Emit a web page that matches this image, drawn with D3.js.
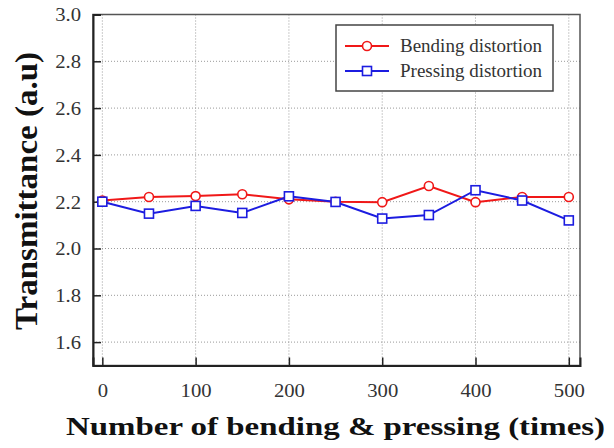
<!DOCTYPE html>
<html>
<head>
<meta charset="utf-8">
<script src="https://cdn.jsdelivr.net/npm/d3@7"></script>
<style>
  body { margin: 0; background: #fff; }
  text { font-family: "Liberation Serif", "Times New Roman", serif; }
</style>
</head>
<body>
<div id="chart"></div>
<script>
var cycles = [0, 50, 100, 150, 200, 250, 300, 350, 400, 450, 500];
var bending = [2.205, 2.22, 2.224, 2.232, 2.21, 2.2, 2.198, 2.267, 2.198, 2.22, 2.22];
var pressing = [2.2, 2.149, 2.182, 2.152, 2.223, 2.199, 2.128, 2.143, 2.249, 2.205, 2.12];
var xTicks = [0, 100, 200, 300, 400, 500];
var yTicks = [1.6, 1.8, 2.0, 2.2, 2.4, 2.6, 2.8, 3.0];
var seriesNames = ["Bending distortion", "Pressing distortion"];

var svg = d3.select("#chart").append("svg")
    .attr("width", 614)
    .attr("height", 448);

var x = d3.scaleLinear().domain([-10, 512]).range([93, 580]);
var y = d3.scaleLinear().domain([1.5, 3.0]).range([365.5, 14.5]);

// dotted grid
svg.append("g").selectAll("line").data(xTicks).enter().append("line")
    .attr("x1", function(d) { return x(d); })
    .attr("x2", function(d) { return x(d); })
    .attr("y1", y(3.0)).attr("y2", y(1.5))
    .attr("stroke", "#999").attr("stroke-width", 1)
    .attr("stroke-dasharray", "1,2");
svg.append("g").selectAll("line").data(yTicks).enter().append("line")
    .attr("y1", function(d) { return y(d); })
    .attr("y2", function(d) { return y(d); })
    .attr("x1", x(-10)).attr("x2", x(512))
    .attr("stroke", "#999").attr("stroke-width", 1)
    .attr("stroke-dasharray", "1,2");

// frame
svg.append("rect")
    .attr("x", x(-10)).attr("y", y(3.0))
    .attr("width", x(512) - x(-10)).attr("height", y(1.5) - y(3.0))
    .attr("fill", "none").attr("stroke", "#555").attr("stroke-width", 1.5);

// left axis
var yAxis = svg.append("g")
    .attr("transform", "translate(" + x(-10) + ",0)")
    .call(d3.axisRight(y).tickValues(yTicks).tickSize(8).tickFormat(""));
yAxis.select(".domain").attr("stroke", "#222").attr("stroke-width", 2);
yAxis.selectAll(".tick line").attr("stroke", "#222").attr("stroke-width", 1.5);

yAxis.selectAll(".tick").append("text")
    .attr("fill", "#333")
    .attr("font-size", 18)
    .attr("text-anchor", "end")
    .attr("dy", "0.35em")
    .attr("transform", "translate(-12,0) scale(1.15,1)")
    .text(function(d) { return d3.format(".1f")(d); });

// bottom axis
var xAxis = svg.append("g")
    .attr("transform", "translate(0," + y(1.5) + ")")
    .call(d3.axisTop(x).tickValues(xTicks).tickSize(8).tickFormat(""));
xAxis.select(".domain").attr("stroke", "#222").attr("stroke-width", 2);
xAxis.selectAll(".tick line").attr("stroke", "#222").attr("stroke-width", 1.5);

xAxis.selectAll(".tick").append("text")
    .attr("fill", "#333")
    .attr("font-size", 18)
    .attr("text-anchor", "middle")
    .attr("transform", "translate(0,31) scale(1.15,1)")
    .text(function(d) { return d; });

// series
var line = d3.line()
    .x(function(d, i) { return x(cycles[i]); })
    .y(function(d) { return y(d); });

svg.append("path").datum(bending)
    .attr("d", line).attr("fill", "none")
    .attr("stroke", "#f01818").attr("stroke-width", 2);
svg.append("path").datum(pressing)
    .attr("d", line).attr("fill", "none")
    .attr("stroke", "#1c1ce0").attr("stroke-width", 2);

svg.append("g").selectAll("circle").data(bending).enter().append("circle")
    .attr("cx", function(d, i) { return x(cycles[i]); })
    .attr("cy", function(d) { return y(d); })
    .attr("r", 4.5)
    .attr("fill", "#fff").attr("stroke", "#f01818").attr("stroke-width", 1.6);

svg.append("g").selectAll("rect").data(pressing).enter().append("rect")
    .attr("x", function(d, i) { return x(cycles[i]) - 4.5; })
    .attr("y", function(d) { return y(d) - 4.5; })
    .attr("width", 9).attr("height", 9)
    .attr("fill", "#fff").attr("stroke", "#1c1ce0").attr("stroke-width", 1.6);

// legend
var legend = svg.append("g");
legend.append("rect")
    .attr("x", 336).attr("y", 25).attr("width", 217).attr("height", 66)
    .attr("fill", "#fff").attr("stroke", "#444").attr("stroke-width", 1.5);

var colors = ["#f01818", "#1c1ce0"];
seriesNames.forEach(function(name, i) {
  var ly = 46 + i * 25;
  legend.append("line")
      .attr("x1", 345).attr("x2", 389).attr("y1", ly).attr("y2", ly)
      .attr("stroke", colors[i]).attr("stroke-width", 2);
  if (i === 0) {
    legend.append("circle").attr("cx", 367).attr("cy", ly).attr("r", 4.5)
        .attr("fill", "#fff").attr("stroke", colors[i]).attr("stroke-width", 1.6);
  } else {
    legend.append("rect").attr("x", 362.5).attr("y", ly - 4.5)
        .attr("width", 9).attr("height", 9)
        .attr("fill", "#fff").attr("stroke", colors[i]).attr("stroke-width", 1.6);
  }
  legend.append("text")
      .attr("x", 400).attr("y", ly).attr("dy", "0.33em")
      .attr("font-size", 19).attr("fill", "#333")
      .text(name);
});

// axis titles
svg.append("text")
    .attr("x", 66).attr("y", 435)
    .attr("font-size", 26).attr("font-weight", "bold").attr("fill", "#111")
    .attr("textLength", 539).attr("lengthAdjust", "spacingAndGlyphs")
    .text("Number of bending & pressing (times)");

svg.append("text")
    .attr("transform", "translate(37,330) rotate(-90)")
    .attr("x", 0).attr("y", 0)
    .attr("font-size", 31).attr("font-weight", "bold").attr("fill", "#111")
    .attr("textLength", 278).attr("lengthAdjust", "spacingAndGlyphs")
    .text("Transmittance (a.u)");
</script>
</body>
</html>
